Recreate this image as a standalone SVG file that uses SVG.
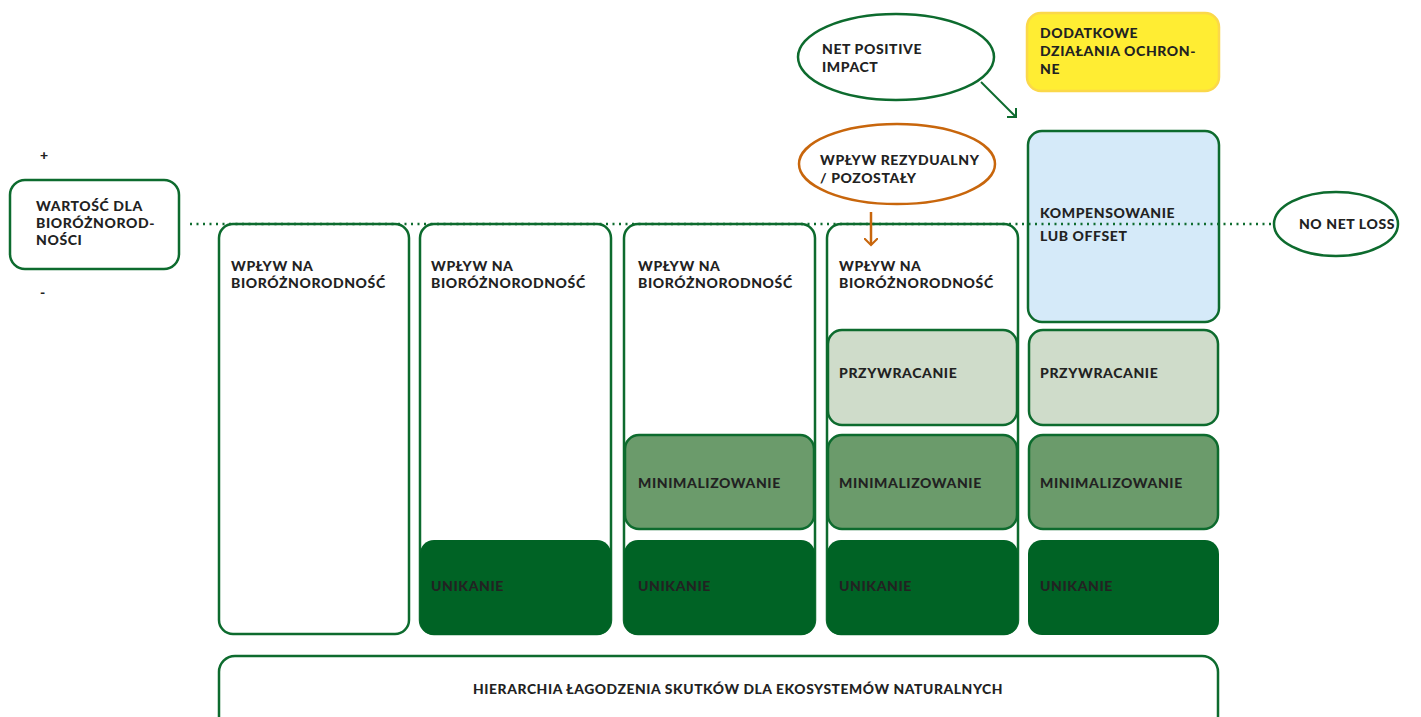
<svg xmlns="http://www.w3.org/2000/svg" width="1421" height="717" viewBox="0 0 1421 717">
<style>
text{font-family:"Lato","Liberation Sans",sans-serif;font-weight:900;font-size:14px;letter-spacing:0.6px;fill:#222;}
.col{fill:#fff;stroke:#0d6b2e;stroke-width:2.5;}
.av{fill:#006325;stroke:none;}
.mi{fill:#6b9b6b;stroke:#0d6b2e;stroke-width:2.5;}
.pr{fill:#cfdcca;stroke:#0d6b2e;stroke-width:2.5;}
.ell{fill:#fff;stroke:#0d6b2e;stroke-width:2.5;}
</style>
<defs>
<marker id="ag" markerWidth="14" markerHeight="14" refX="7" refY="7" orient="auto" markerUnits="userSpaceOnUse"><path d="M0,0 L7,7 L0,14" fill="none" stroke="#0d6b2e" stroke-width="2"/></marker>
<marker id="ao" markerWidth="14" markerHeight="14" refX="7" refY="7" orient="auto" markerUnits="userSpaceOnUse"><path d="M0,0 L7,7 L0,14" fill="none" stroke="#c8660c" stroke-width="2"/></marker>
</defs>
<rect width="1421" height="717" fill="#fff"/>
<g id="axis">
<text x="40" y="160">+</text>
<text x="40" y="297">-</text>
</g>
<g id="wartosc">
<rect x="10" y="180" width="169" height="89" rx="15" class="col"/>
<text x="36" y="211">WARTOŚĆ DLA</text>
<text x="36" y="228">BIORÓŻNOROD-</text>
<text x="36" y="245">NOŚCI</text>
</g>
<g id="col1">
<rect x="219" y="224" width="190" height="410" rx="14" class="col"/>
<text x="231" y="271">WPŁYW NA</text>
<text x="231" y="288">BIORÓŻNORODNOŚĆ</text>
</g>
<g id="col2">
<rect x="420" y="224" width="191" height="410" rx="14" class="col"/>
<text x="431" y="271">WPŁYW NA</text>
<text x="431" y="288">BIORÓŻNORODNOŚĆ</text>
<rect x="420" y="540" width="191" height="95" rx="14" class="av"/>
<text x="431" y="591">UNIKANIE</text>
</g>
<g id="col3">
<rect x="624" y="224" width="191" height="410" rx="14" class="col"/>
<text x="638" y="271">WPŁYW NA</text>
<text x="638" y="288">BIORÓŻNORODNOŚĆ</text>
<rect x="625" y="435" width="189" height="94" rx="14" class="mi"/>
<text x="638" y="488">MINIMALIZOWANIE</text>
<rect x="624" y="540" width="191" height="95" rx="14" class="av"/>
<text x="638" y="591">UNIKANIE</text>
</g>
<g id="col4">
<rect x="827" y="224" width="191" height="410" rx="14" class="col"/>
<text x="839" y="271">WPŁYW NA</text>
<text x="839" y="288">BIORÓŻNORODNOŚĆ</text>
<rect x="828" y="330" width="189" height="95" rx="14" class="pr"/>
<text x="839" y="378">PRZYWRACANIE</text>
<rect x="828" y="435" width="189" height="94" rx="14" class="mi"/>
<text x="839" y="488">MINIMALIZOWANIE</text>
<rect x="827" y="540" width="191" height="95" rx="14" class="av"/>
<text x="839" y="591">UNIKANIE</text>
</g>
<g id="col5">
<rect x="1028" y="131" width="191" height="191" rx="14" fill="#d5eaf9" stroke="#0d6b2e" stroke-width="2.5"/>
<text x="1040" y="218">KOMPENSOWANIE</text>
<text x="1040" y="241">LUB OFFSET</text>
<rect x="1029" y="330" width="189" height="95" rx="14" class="pr"/>
<text x="1040" y="378">PRZYWRACANIE</text>
<rect x="1029" y="435" width="189" height="94" rx="14" class="mi"/>
<text x="1040" y="488">MINIMALIZOWANIE</text>
<rect x="1028" y="540" width="191" height="95" rx="14" class="av"/>
<text x="1040" y="591">UNIKANIE</text>
</g>
<g id="dodatkowe">
<rect x="1027" y="13" width="192" height="78" rx="14" fill="#ffed33" stroke="#fbd84a" stroke-width="2.5"/>
<text x="1040" y="38">DODATKOWE</text>
<text x="1040" y="56">DZIAŁANIA OCHRON-</text>
<text x="1040" y="74">NE</text>
</g>
<g id="netpositive">
<ellipse cx="896" cy="57" rx="98" ry="43" class="ell"/>
<text x="822" y="54">NET POSITIVE</text>
<text x="822" y="72">IMPACT</text>
</g>
<g id="rezydualny">
<ellipse cx="897" cy="164" rx="98" ry="40" fill="#fff" stroke="#c8660c" stroke-width="2.5"/>
<text x="820" y="165">WPŁYW REZYDUALNY</text>
<text x="820" y="183">/ POZOSTAŁY</text>
</g>
<g id="nonetloss">
<ellipse cx="1336" cy="224" rx="62" ry="32" class="ell"/>
<text x="1347" y="229" text-anchor="middle">NO NET LOSS</text>
</g>
<g id="connectors">
<line x1="190" y1="224" x2="1272" y2="224" stroke="#0d6b2e" stroke-width="2.5" stroke-dasharray="2 4.5"/>
<line x1="981" y1="82" x2="1016" y2="117" stroke="#0d6b2e" stroke-width="2" marker-end="url(#ag)"/>
<line x1="871" y1="212" x2="871" y2="245" stroke="#c8660c" stroke-width="2.5" marker-end="url(#ao)"/>
</g>
<g id="hierarchia">
<rect x="219" y="656" width="999" height="80" rx="16" class="col"/>
<text x="738" y="694" text-anchor="middle" font-size="12.5" letter-spacing="0" textLength="530" lengthAdjust="spacingAndGlyphs">HIERARCHIA ŁAGODZENIA SKUTKÓW DLA EKOSYSTEMÓW NATURALNYCH</text>
</g>
</svg>
